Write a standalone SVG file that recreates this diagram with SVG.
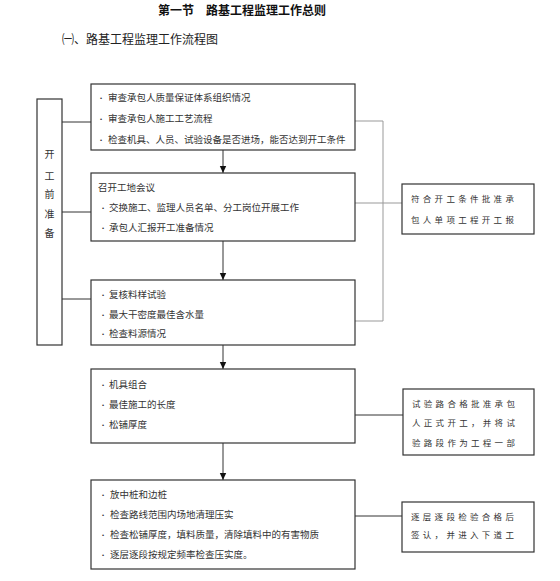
<svg xmlns="http://www.w3.org/2000/svg" width="560" height="581" viewBox="0 0 560 581">
<style>
text{font-family:"Liberation Sans","Noto Sans CJK SC",sans-serif;fill:#333}
.t{font-size:9.5px}
.b{font-size:6px}
.s{font-size:8.5px;letter-spacing:3.3px}
.v{font-size:10px;text-anchor:middle}
.box{fill:#fff;stroke:#333;stroke-width:1.2}
.ln{stroke:#333;stroke-width:1;fill:none}
.gl{stroke:#999;stroke-width:1;fill:none}
</style>
<defs>
<marker id="ah" markerWidth="8" markerHeight="8" refX="7" refY="4" orient="auto" markerUnits="userSpaceOnUse">
<path d="M0,0.8 L7,4 L0,7.2 Z" fill="#111"/>
</marker>
</defs>
<text x="242" y="15" style="font-size:12px;font-weight:bold;text-anchor:middle;fill:#111">第一节　路基工程监理工作总则</text>
<text x="62" y="44" style="font-size:12px;fill:#222">㈠、路基工程监理工作流程图</text>

<g id="connectors">
<line class="ln" x1="62" y1="122" x2="91" y2="122"/>
<line class="ln" x1="62" y1="212" x2="91" y2="212"/>
<line class="ln" x1="62" y1="299" x2="91" y2="299"/>
<line class="ln" x1="223" y1="150" x2="223" y2="173" marker-end="url(#ah)"/>
<line class="ln" x1="223" y1="241" x2="223" y2="280" marker-end="url(#ah)"/>
<line class="ln" x1="223" y1="345" x2="223" y2="369" marker-end="url(#ah)"/>
<line class="ln" x1="223" y1="443" x2="223" y2="480" marker-end="url(#ah)"/>
<polyline class="gl" points="355,121 383,121 383,321 355,321"/>
<line class="gl" x1="355" y1="203" x2="402" y2="203"/>
<line class="ln" x1="355" y1="415" x2="403" y2="415"/>
<line class="ln" x1="355" y1="516" x2="402" y2="516"/>
</g>

<g id="prep">
<rect class="box" x="37" y="99" width="25" height="246"/>
<text class="v" x="49.5" y="158">开</text>
<text class="v" x="49.5" y="180">工</text>
<text class="v" x="49.5" y="198">前</text>
<text class="v" x="49.5" y="218">准</text>
<text class="v" x="49.5" y="237">备</text>
</g>

<g id="box1">
<rect class="box" x="91" y="84" width="264" height="66"/>
<text class="b" x="100" y="100">•</text><text class="t" x="108" y="101">审查承包人质量保证体系组织情况</text>
<text class="b" x="100" y="121">•</text><text class="t" x="108" y="122">审查承包人施工工艺流程</text>
<text class="b" x="100" y="142">•</text><text class="t" x="108" y="143">检查机具、人员、试验设备是否进场，能否达到开工条件</text>
</g>

<g id="box2">
<rect class="box" x="91" y="173" width="264" height="68"/>
<text class="t" x="98" y="191">召开工地会议</text>
<text class="b" x="102" y="210">•</text><text class="t" x="109" y="211">交换施工、监理人员名单、分工岗位开展工作</text>
<text class="b" x="102" y="230">•</text><text class="t" x="109" y="231">承包人汇报开工准备情况</text>
</g>

<g id="box3">
<rect class="box" x="91" y="280" width="264" height="65"/>
<text class="b" x="102" y="297">•</text><text class="t" x="109" y="298">复核料样试验</text>
<text class="b" x="102" y="317">•</text><text class="t" x="109" y="318">最大干密度最佳含水量</text>
<text class="b" x="102" y="336">•</text><text class="t" x="109" y="337">检查料源情况</text>
</g>

<g id="box4">
<rect class="box" x="91" y="369" width="264" height="74"/>
<text class="b" x="102" y="387">•</text><text class="t" x="109" y="388">机具组合</text>
<text class="b" x="102" y="407">•</text><text class="t" x="109" y="408">最佳施工的长度</text>
<text class="b" x="102" y="427">•</text><text class="t" x="109" y="428">松铺厚度</text>
</g>

<g id="box5">
<rect class="box" x="91" y="480" width="264" height="89"/>
<text class="b" x="102" y="497">•</text><text class="t" x="110" y="498">放中桩和边桩</text>
<text class="b" x="102" y="517">•</text><text class="t" x="110" y="518">检查路线范围内场地清理压实</text>
<text class="b" x="102" y="537">•</text><text class="t" x="110" y="538">检查松铺厚度，填料质量，清除填料中的有害物质</text>
<text class="b" x="102" y="557">•</text><text class="t" x="110" y="558">逐层逐段按规定频率检查压实度。</text>
</g>

<g id="right1">
<rect class="box" x="402" y="184" width="132" height="50"/>
<text class="s" x="411" y="202">符合开工条件批准承</text>
<text class="s" x="411" y="223">包人单项工程开工报</text>
</g>

<g id="right2">
<rect class="box" x="403" y="389" width="131" height="66"/>
<text class="s" x="412" y="407">试验路合格批准承包</text>
<text class="s" x="412" y="426">人正式开工，并将试</text>
<text class="s" x="412" y="446">验路段作为工程一部</text>
</g>

<g id="right3">
<rect class="box" x="402" y="502" width="132" height="50"/>
<text class="s" x="411" y="520">逐层逐段检验合格后</text>
<text class="s" x="411" y="538">签认，并进入下道工</text>
</g>
</svg>
